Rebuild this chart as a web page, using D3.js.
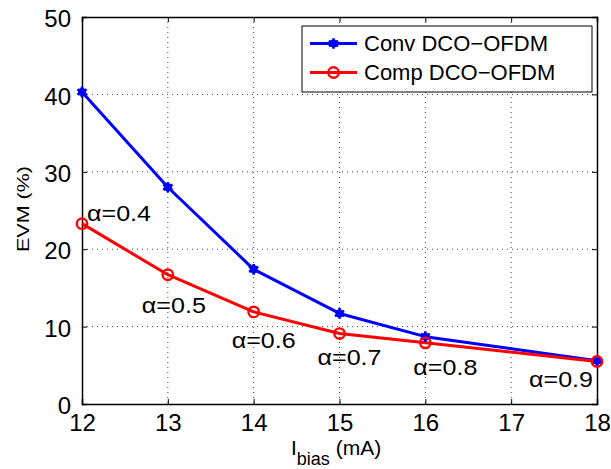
<!DOCTYPE html>
<html>
<head>
<meta charset="utf-8">
<script src="https://cdn.jsdelivr.net/npm/d3@7/dist/d3.min.js"></script>
<style>
  html, body { margin: 0; padding: 0; background: #fff; }
  text { font-family: "Liberation Sans", Arial, Helvetica, sans-serif; fill: #000; }
</style>
</head>
<body>
<svg id="chart" width="611" height="469"></svg>
<script>
// ---- data ----
const biasCurrent = [12, 13, 14, 15, 16, 18];
const convEVM = [40.3, 28.0, 17.4, 11.7, 8.7, 5.6];
const compEVM = [23.3, 16.7, 11.9, 9.1, 7.9, 5.5];
const alphaLabels = ["α=0.4", "α=0.5", "α=0.6", "α=0.7", "α=0.8", "α=0.9"];
const xTicks = [12, 13, 14, 15, 16, 17, 18];
const yTicks = [0, 10, 20, 30, 40, 50];
const seriesNames = ["Conv DCO\u2212OFDM", "Comp DCO\u2212OFDM"];

// ---- layout ----
const L = 82, R = 597, T = 17, B = 404;
const svg = d3.select("#chart");
const x = d3.scaleLinear().domain([12, 18]).range([L, R]);
const y = d3.scaleLinear().domain([0, 50]).range([B, T]);

// grid
const grid = svg.append("g");
grid.selectAll("line.gx").data(xTicks.slice(1, -1)).enter().append("line")
  .attr("x1", d => x(d)).attr("x2", d => x(d)).attr("y1", T).attr("y2", B)
  .attr("stroke", "#444").attr("stroke-width", 1).attr("stroke-dasharray", "1,4");
grid.selectAll("line.gy").data(yTicks.slice(1, -1)).enter().append("line")
  .attr("y1", d => y(d)).attr("y2", d => y(d)).attr("x1", L).attr("x2", R)
  .attr("stroke", "#444").attr("stroke-width", 1).attr("stroke-dasharray", "1,4");

// axes (inward ticks, all four sides)
const tl = 5;
const axB = svg.append("g").attr("transform", `translate(0,${B})`)
  .call(d3.axisBottom(x).tickValues(xTicks).tickSize(-tl).tickPadding(10).tickFormat(d3.format("d")));
const axT = svg.append("g").attr("transform", `translate(0,${T})`)
  .call(d3.axisTop(x).tickValues(xTicks).tickSize(-tl).tickFormat(""));
const axL = svg.append("g").attr("transform", `translate(${L},0)`)
  .call(d3.axisLeft(y).tickValues(yTicks).tickSize(-tl).tickPadding(11).tickFormat(d3.format("d")));
const axR = svg.append("g").attr("transform", `translate(${R},0)`)
  .call(d3.axisRight(y).tickValues(yTicks).tickSize(-tl).tickFormat(""));
[axB, axT, axL, axR].forEach(a => {
  a.select(".domain").attr("stroke", "#000").attr("stroke-width", 1.5);
  a.selectAll(".tick line").attr("stroke", "#000").attr("stroke-width", 1);
  a.selectAll("text").style("font-size", "24px").attr("fill", "#000")
    .style("font-family", "'Liberation Sans', Arial, sans-serif");
});
axL.selectAll("text").attr("dy", "0.4em");

// lines
const lineGen = d3.line().x((d, i) => x(biasCurrent[i])).y(d => y(d));
svg.append("path").datum(convEVM).attr("d", lineGen)
  .attr("fill", "none").attr("stroke", "#0000ff").attr("stroke-width", 3).attr("stroke-linejoin", "round");
svg.append("path").datum(compEVM).attr("d", lineGen)
  .attr("fill", "none").attr("stroke", "#ff0000").attr("stroke-width", 3).attr("stroke-linejoin", "round");

const star = d3.symbol().type(d3.symbolAsterisk).size(80);
function drawStar(g, cx, cy) {
  g.append("path").attr("d", star()).attr("transform", `translate(${cx},${cy})`)
    .attr("fill", "none").attr("stroke", "#0000ff").attr("stroke-width", 2.6);
  g.append("circle").attr("cx", cx).attr("cy", cy).attr("r", 4).attr("fill", "#0000ff");
}
function drawCircle(g, cx, cy) {
  g.append("circle").attr("cx", cx).attr("cy", cy).attr("r", 5.2)
    .attr("fill", "none").attr("stroke", "#ff0000").attr("stroke-width", 2.4);
}
const mk = svg.append("g");
convEVM.forEach((v, i) => drawStar(mk, x(biasCurrent[i]), y(v)));
compEVM.forEach((v, i) => drawCircle(mk, x(biasCurrent[i]), y(v)));

// alpha annotations (offsets relative to Comp points)
const annOffsets = [[5, -3], [-26, 38], [-22, 36], [-22, 31], [-12, 32], [-68, 26]];
svg.selectAll("text.ann").data(alphaLabels).enter().append("text")
  .attr("class", "ann")
  .attr("x", (d, i) => x(biasCurrent[i]) + annOffsets[i][0])
  .attr("y", (d, i) => y(compEVM[i]) + annOffsets[i][1])
  .attr("textLength", 64).attr("lengthAdjust", "spacingAndGlyphs")
  .style("font-size", "22px").text(d => d);

// axis labels
svg.append("text")
  .attr("transform", "translate(29,209) rotate(-90)")
  .attr("text-anchor", "middle")
  .attr("textLength", 86).attr("lengthAdjust", "spacingAndGlyphs")
  .style("font-size", "17px").text("EVM (%)");

const xl = svg.append("text").attr("x", 291).attr("y", 455).style("font-size", "21px");
xl.append("tspan").text("I");
xl.append("tspan").attr("dy", 10).style("font-size", "18px").text("bias");
xl.append("tspan").attr("dy", -10).text(" (mA)");

// legend
const lg = svg.append("g");
lg.append("rect").attr("x", 302).attr("y", 26).attr("width", 290).attr("height", 66)
  .attr("fill", "#fff").attr("stroke", "#000").attr("stroke-width", 1);
const rows = [43.5, 72.5];
lg.append("line").attr("x1", 310).attr("x2", 357).attr("y1", rows[0]).attr("y2", rows[0])
  .attr("stroke", "#0000ff").attr("stroke-width", 3);
drawStar(lg, 333.5, rows[0]);
lg.append("line").attr("x1", 310).attr("x2", 357).attr("y1", rows[1]).attr("y2", rows[1])
  .attr("stroke", "#ff0000").attr("stroke-width", 3);
drawCircle(lg, 333.5, rows[1]);
lg.selectAll("text.lg").data(seriesNames).enter().append("text")
  .attr("x", 364).attr("y", (d, i) => rows[i] + 7.5)
  .style("font-size", "22px").text(d => d);
</script>
</body>
</html>
